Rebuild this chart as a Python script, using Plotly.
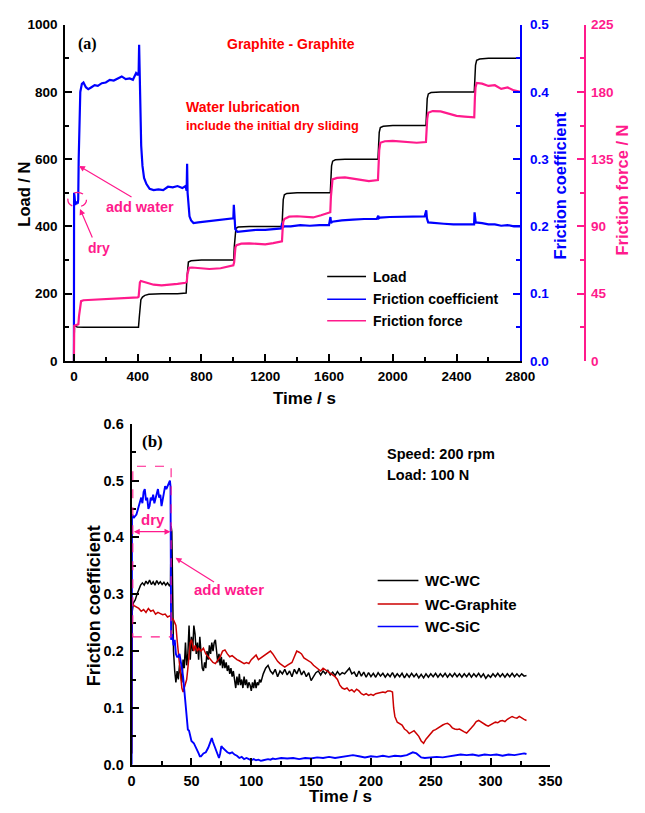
import plotly.graph_objects as go

# ---------------- Panel (a): Graphite - Graphite, load steps ----------------
load_t = [0, 3, 8, 20, 60, 150, 250, 350, 405, 410, 414, 420, 430, 445, 470, 550, 650, 704,
          708, 712, 718, 735, 800, 900, 1002, 1006, 1010, 1016, 1030, 1100, 1200, 1305, 1309,
          1313, 1320, 1335, 1400, 1500, 1608, 1612, 1616, 1623, 1640, 1700, 1800, 1907, 1911,
          1915, 1922, 1940, 2000, 2100, 2208, 2212, 2216, 2223, 2240, 2300, 2400, 2511, 2515,
          2519, 2526, 2545, 2600, 2700, 2800]
load_v = [0, 105, 104, 101, 100, 100, 100, 100, 100, 130, 165, 182, 190, 195, 198, 200, 200, 202,
          240, 280, 294, 298, 300, 300, 300, 340, 380, 394, 398, 400, 400, 400, 440,
          480, 494, 498, 500, 500, 500, 540, 580, 594, 598, 600, 600, 600, 640,
          680, 694, 698, 700, 700, 700, 740, 780, 794, 798, 800, 800, 800, 840,
          880, 894, 898, 900, 900, 900]

mu_t = [0, 1, 4, 8, 12, 16, 20, 24, 27, 30, 34, 40, 50, 60, 75, 90, 110, 130, 150, 175, 200,
        225, 250, 275, 300, 325, 350, 370, 390, 400, 406, 409, 412, 416, 422, 430, 440, 455,
        475, 500, 530, 560, 590, 620, 650, 680, 700, 707, 710, 713, 718, 725, 735, 750, 780,
        820, 860, 900, 940, 980, 1000, 1003, 1006, 1012, 1025, 1060, 1100, 1150, 1200, 1250,
        1300, 1306, 1310, 1320, 1360, 1420, 1480, 1540, 1600, 1609, 1613, 1620, 1680, 1750,
        1820, 1900, 1909, 1913, 1920, 1980, 2050, 2120, 2200, 2210, 2214, 2222, 2260, 2320,
        2380, 2440, 2510, 2513, 2520, 2560, 2600, 2640, 2680, 2720, 2760, 2800]
mu_v = [0.0, 0.25, 0.245, 0.232, 0.236, 0.233, 0.237, 0.234, 0.24, 0.3, 0.37, 0.4, 0.412, 0.414,
        0.407, 0.404, 0.407, 0.41, 0.409, 0.413, 0.414, 0.418, 0.417, 0.42, 0.423, 0.419, 0.42,
        0.418, 0.428, 0.425, 0.43, 0.47, 0.43, 0.37, 0.32, 0.29, 0.272, 0.263, 0.256, 0.254,
        0.255, 0.254, 0.259, 0.258, 0.26, 0.257, 0.26, 0.253, 0.293, 0.25, 0.23, 0.215, 0.209,
        0.205, 0.206, 0.207, 0.209, 0.21, 0.21, 0.211, 0.212, 0.232, 0.21, 0.196, 0.192, 0.193,
        0.194, 0.195, 0.195, 0.196, 0.197, 0.205, 0.199, 0.2, 0.2, 0.202, 0.201, 0.202, 0.202,
        0.214, 0.205, 0.207, 0.209, 0.21, 0.211, 0.211, 0.216, 0.212, 0.213, 0.214, 0.214,
        0.214, 0.215, 0.224, 0.212, 0.206, 0.205, 0.204, 0.203, 0.203, 0.203, 0.221, 0.206,
        0.205, 0.203, 0.203, 0.201, 0.202, 0.2, 0.2]

ff_t = [0, 2, 10, 20, 28, 32, 38, 45, 60, 100, 150, 200, 250, 300, 350, 400, 406, 410, 414,
        420, 435, 460, 500, 550, 600, 650, 700, 708, 712, 716, 722, 740, 780, 850, 920, 1000,
        1005, 1009, 1013, 1020, 1050, 1100, 1150, 1200, 1250, 1305, 1309, 1313, 1320, 1350,
        1400, 1450, 1500, 1550, 1608, 1612, 1616, 1622, 1650, 1700, 1750, 1800, 1850, 1907,
        1911, 1915, 1922, 1950, 2000, 2050, 2100, 2150, 2208, 2212, 2216, 2222, 2250, 2300,
        2350, 2400, 2450, 2511, 2515, 2519, 2526, 2560, 2600, 2640, 2680, 2720, 2760, 2800]
ff_v = [0, 23.5, 23.8, 24, 24.5, 30, 37, 40, 40.6, 40.8, 41, 41.3, 41.6, 41.8, 42, 42.5, 43,
        49, 52.5, 53.5, 53, 52, 51, 50.6, 50.8, 51.5, 52.3, 53, 58, 61, 62.3, 62.5, 62, 61.5,
        62, 64, 66, 72, 76, 77.5, 78.5, 78.7, 78.3, 78, 78.8, 80, 88, 93, 95, 96.5, 96.8, 96.2,
        96, 97.5, 99.5, 110, 118, 121.5, 122.5, 122.8, 122, 121, 120.3, 121, 132, 141, 146,
        147, 147.3, 147, 146.3, 146, 146.5, 155, 162, 166, 167.2, 167, 165.5, 164, 163.5, 163,
        176, 183, 186, 185.5, 184, 184.5, 182, 183, 181, 180]

a_xticks = [0, 400, 800, 1200, 1600, 2000, 2400, 2800]
a_load_ticks = [0, 200, 400, 600, 800, 1000]
a_mu_ticks = [0.0, 0.1, 0.2, 0.3, 0.4, 0.5]
a_ff_ticks = [0, 45, 90, 135, 180, 225]

# ---------------- Panel (b): 200 rpm, 100 N ----------------
wcwc_t = ([0, 0.5, 1.5, 3, 4.5, 6, 7.5, 9, 10.5, 12, 13.5, 15, 16.5, 18, 19.5, 21, 22.5, 24,
           25.5, 27, 28.5, 30, 31.5, 32.5, 33, 33.6, 34.2]
          + list(range(35, 111)) + list(range(112, 331, 2)))
wcwc_v = [0.02, 0.27, 0.285, 0.29, 0.30, 0.31, 0.316, 0.32, 0.316, 0.323, 0.318, 0.325, 0.317,
          0.322, 0.316, 0.324, 0.318, 0.322, 0.317, 0.321, 0.316, 0.32, 0.315, 0.318, 0.42,
          0.41, 0.3,
          # 35..110
          0.2, 0.165, 0.145, 0.165, 0.15, 0.175, 0.16, 0.145, 0.185, 0.17, 0.215, 0.175, 0.195,
          0.245, 0.185, 0.225, 0.2, 0.245, 0.23, 0.195, 0.215, 0.185, 0.225, 0.19, 0.17, 0.165,
          0.18, 0.17, 0.2, 0.185, 0.21, 0.195, 0.215, 0.2, 0.215, 0.22, 0.2, 0.18, 0.195, 0.175,
          0.19, 0.17, 0.185, 0.17, 0.18, 0.165, 0.175, 0.16, 0.17, 0.155, 0.165, 0.15, 0.135,
          0.155, 0.14, 0.16, 0.14, 0.15, 0.135, 0.155, 0.14, 0.15, 0.135, 0.145, 0.14, 0.13,
          0.145, 0.135, 0.15, 0.135, 0.145, 0.14, 0.15, 0.145, 0.155, 0.16,
          # 112..330 step 2
          0.17, 0.175, 0.165, 0.16, 0.168, 0.155, 0.165, 0.16, 0.168, 0.158, 0.165, 0.155,
          0.168, 0.16, 0.17, 0.158, 0.165, 0.155, 0.162, 0.148, 0.155, 0.162, 0.165, 0.158,
          0.165, 0.16, 0.166, 0.158, 0.163, 0.157, 0.164, 0.158, 0.162, 0.16, 0.165, 0.17,
          0.16, 0.163, 0.155, 0.165, 0.156, 0.163, 0.154, 0.162, 0.155, 0.161, 0.154, 0.162,
          0.156, 0.161, 0.154, 0.16, 0.155, 0.162, 0.154, 0.16, 0.155, 0.161, 0.153, 0.16,
          0.154, 0.161, 0.155, 0.16, 0.153, 0.159, 0.153, 0.16, 0.154, 0.16, 0.155, 0.161,
          0.154, 0.16, 0.155, 0.161, 0.154, 0.16, 0.155, 0.161, 0.155, 0.16, 0.154, 0.16,
          0.155, 0.161, 0.154, 0.16, 0.155, 0.161, 0.154, 0.16, 0.152, 0.158, 0.154, 0.16,
          0.155, 0.161, 0.155, 0.16, 0.154, 0.16, 0.155, 0.161, 0.155, 0.16, 0.155, 0.16,
          0.156, 0.157]

wcgr_t = ([0, 0.5] + list(range(2, 33, 2)) + list(range(33, 57)) + list(range(58, 219, 2))
          + [219] + list(range(220, 331, 2)))
wcgr_v = [0.02, 0.283,
          # 2..32
          0.28, 0.278, 0.275, 0.27, 0.273, 0.268, 0.275, 0.27, 0.272, 0.265, 0.268, 0.266,
          0.264, 0.265, 0.26, 0.262,
          # 33..56
          0.26, 0.258, 0.255, 0.25, 0.245, 0.22, 0.2, 0.18, 0.16, 0.135, 0.128, 0.135, 0.14,
          0.15, 0.17, 0.2, 0.215, 0.22, 0.21, 0.2, 0.21, 0.205, 0.2, 0.205,
          # 58..218
          0.2, 0.205, 0.195, 0.19, 0.185, 0.18, 0.178, 0.185, 0.19, 0.2, 0.202, 0.195, 0.19,
          0.192, 0.188, 0.185, 0.183, 0.18, 0.178, 0.18, 0.178, 0.185, 0.19, 0.193, 0.185,
          0.188, 0.19, 0.193, 0.196, 0.2, 0.195, 0.188, 0.182, 0.178, 0.175, 0.172, 0.175,
          0.178, 0.18, 0.19, 0.2, 0.198, 0.195, 0.188, 0.185, 0.182, 0.18, 0.175, 0.172,
          0.168, 0.165, 0.17, 0.167, 0.163, 0.16, 0.157, 0.155, 0.15, 0.14, 0.135, 0.133,
          0.135, 0.13, 0.132, 0.128, 0.133, 0.13, 0.125, 0.123, 0.125, 0.122, 0.124, 0.122,
          0.125, 0.126, 0.127, 0.128, 0.127, 0.13, 0.13, 0.128,
          # 219
          0.1,
          # 220..330
          0.085, 0.075, 0.072, 0.07, 0.063, 0.06, 0.055, 0.058, 0.06, 0.055, 0.05, 0.042,
          0.038, 0.045, 0.05, 0.055, 0.06, 0.062, 0.065, 0.068, 0.07, 0.072, 0.073, 0.07,
          0.065, 0.063, 0.062, 0.063, 0.06, 0.058, 0.056, 0.06, 0.065, 0.07, 0.076, 0.078,
          0.075, 0.072, 0.07, 0.068, 0.07, 0.072, 0.075, 0.074, 0.077, 0.078, 0.076, 0.08,
          0.082, 0.085, 0.083, 0.082, 0.085, 0.082, 0.08, 0.078]

wcsic_t = ([0, 0.3, 2, 4, 6, 8] + list(range(9, 33)) + [32.5] + list(range(33, 51))
           + [52, 54, 56, 57, 58, 60, 62, 64, 66, 67, 68, 70, 72, 73, 74, 75, 76, 78]
           + list(range(80, 119, 2)) + list(range(120, 236, 5))
           + [238, 242, 245] + list(range(250, 326, 5)) + [328, 330])
wcsic_v = [0.0, 0.44, 0.435, 0.44, 0.455, 0.47,
           # 9..32
           0.46, 0.48, 0.485, 0.465, 0.47, 0.45, 0.455, 0.47, 0.465, 0.475, 0.46, 0.47, 0.48,
           0.485, 0.47, 0.475, 0.455, 0.465, 0.48, 0.49, 0.485, 0.49, 0.495, 0.5,
           # 32.5
           0.49,
           # 33..50
           0.22, 0.23, 0.21, 0.22, 0.195, 0.19, 0.19, 0.195, 0.185, 0.17, 0.155, 0.13, 0.1,
           0.075, 0.062, 0.06, 0.05, 0.042,
           # 52..78
           0.038, 0.03, 0.02, 0.015, 0.015, 0.02, 0.022, 0.03, 0.04, 0.047, 0.04, 0.028, 0.018,
           0.012, 0.02, 0.033, 0.03, 0.025,
           # 80..118
           0.022, 0.02, 0.022, 0.018, 0.016, 0.012, 0.014, 0.01, 0.012, 0.01, 0.008, 0.01,
           0.008, 0.009, 0.007, 0.008, 0.009, 0.01, 0.009, 0.011,
           # 120..235
           0.01, 0.012, 0.011, 0.012, 0.01, 0.012, 0.011, 0.013, 0.012, 0.014, 0.012, 0.014,
           0.015, 0.017, 0.015, 0.013, 0.015, 0.014, 0.016, 0.014, 0.016, 0.015, 0.017, 0.022,
           # 238, 242, 245
           0.02, 0.013, 0.012,
           # 250..325
           0.013, 0.014, 0.013, 0.015, 0.016, 0.018, 0.017, 0.018, 0.016, 0.018, 0.017, 0.018,
           0.016, 0.018, 0.017, 0.019,
           0.02, 0.019]

b_xticks = [0, 50, 100, 150, 200, 250, 300, 350]
b_yticks = [0.0, 0.1, 0.2, 0.3, 0.4, 0.5, 0.6]

# ---------------- styling ----------------
W, H = 645, 813
BLACK = "#000000"
BLUE = "#0000ff"
PINK = "#ff1a8c"
RED = "#ff0000"
DRED = "#cc0000"
FONT = "Liberation Sans, Arial, sans-serif"
SERIF = "Liberation Serif, Times New Roman, serif"


def px(x):
    return x / W


def py(y):
    return 1 - y / H


fig = go.Figure()

fig.add_trace(go.Scatter(x=load_t, y=load_v, xaxis="x", yaxis="y", mode="lines",
                         line=dict(color=BLACK, width=1.5), name="Load", showlegend=False))
fig.add_trace(go.Scatter(x=ff_t, y=ff_v, xaxis="x", yaxis="y3", mode="lines",
                         line=dict(color=PINK, width=2.2), name="Friction force", showlegend=False))
fig.add_trace(go.Scatter(x=mu_t, y=mu_v, xaxis="x", yaxis="y2", mode="lines",
                         line=dict(color=BLUE, width=2.2), name="Friction coefficient",
                         showlegend=False))

fig.add_trace(go.Scatter(x=wcwc_t, y=wcwc_v, xaxis="x2", yaxis="y4", mode="lines",
                         line=dict(color=BLACK, width=1.5), name="WC-WC", showlegend=False))
fig.add_trace(go.Scatter(x=wcgr_t, y=wcgr_v, xaxis="x2", yaxis="y4", mode="lines",
                         line=dict(color=DRED, width=1.5), name="WC-Graphite", showlegend=False))
fig.add_trace(go.Scatter(x=wcsic_t, y=wcsic_v, xaxis="x2", yaxis="y4", mode="lines",
                         line=dict(color=BLUE, width=1.9), name="WC-SiC", showlegend=False))

tickfont_a = dict(family=FONT, size=13.5, color=BLACK, weight="bold")
tickfont_b = dict(family=FONT, size=14.5, color=BLACK, weight="bold")

common = dict(showgrid=False, zeroline=False, showline=True, linewidth=2, ticks="inside",
              ticklen=7, tickwidth=1.5)

fig.update_layout(
    width=W, height=H, margin=dict(l=0, r=0, t=0, b=0),
    plot_bgcolor="white", paper_bgcolor="white", showlegend=False,
    xaxis=dict(domain=[px(63), px(532)], anchor="y", range=[-55, 2800],
               tickvals=a_xticks, ticktext=[str(v) for v in a_xticks],
               linecolor=BLACK, tickcolor=BLACK, tickfont=tickfont_a, ticklabelstandoff=2,
               minor=dict(dtick=200, tick0=0, ticklen=4, ticks="inside", tickcolor=BLACK,
                          tickwidth=1.5),
               **common),
    yaxis=dict(domain=[py(360), py(17)], anchor="x", range=[0, 1000],
               tickvals=a_load_ticks, linecolor=BLACK, tickcolor=BLACK, tickfont=tickfont_a,
               ticklabelstandoff=3,
               minor=dict(dtick=100, tick0=0, ticklen=4, ticks="inside", tickcolor=BLACK,
                          tickwidth=1.5),
               **common),
    yaxis2=dict(overlaying="y", side="right", anchor="x", range=[0, 0.5],
                tickvals=a_mu_ticks, tickformat=".1f", linecolor=BLUE, tickcolor=BLUE,
                tickfont=dict(family=FONT, size=13.5, color=BLUE, weight="bold"),
                ticklabelstandoff=5,
                minor=dict(dtick=0.05, tick0=0, ticklen=4, ticks="inside", tickcolor=BLUE,
                           tickwidth=1.5),
                **common),
    yaxis3=dict(overlaying="y", side="right", anchor="free", position=px(599), range=[0, 225],
                tickvals=a_ff_ticks, linecolor=PINK, tickcolor=PINK,
                tickfont=dict(family=FONT, size=13.5, color=PINK, weight="bold"),
                ticklabelstandoff=2,
                minor=dict(dtick=22.5, tick0=0, ticklen=4, ticks="inside", tickcolor=PINK,
                           tickwidth=1.5),
                **common),
    xaxis2=dict(domain=[px(131.5), px(563)], anchor="y4", range=[0, 350],
                tickvals=b_xticks, linecolor=BLACK, tickcolor=BLACK, tickfont=tickfont_b,
                ticklabelstandoff=2,
                minor=dict(dtick=25, tick0=0, ticklen=4, ticks="inside", tickcolor=BLACK,
                           tickwidth=1.5),
                **common),
    yaxis4=dict(domain=[py(772), py(424)], anchor="x2", range=[0, 0.6],
                tickvals=b_yticks, tickformat=".1f", linecolor=BLACK, tickcolor=BLACK,
                tickfont=tickfont_b, ticklabelstandoff=3,
                minor=dict(dtick=0.05, tick0=0, ticklen=4, ticks="inside", tickcolor=BLACK,
                           tickwidth=1.5),
                **common),
)


def text(s, x, y, size, color=BLACK, angle=0, xanchor="center", family=FONT):
    fig.add_annotation(text=s, x=px(x), y=py(y), xref="paper", yref="paper",
                       showarrow=False, xanchor=xanchor, yanchor="middle", textangle=angle,
                       font=dict(family=family, size=size, color=color, weight="bold"))


# axis titles
text("Load / N", 21, 190, 16.5, angle=-90)
text("Time / s", 310, 398, 17)
text("Friction coefficient", 573, 181, 16.5, color=BLUE, angle=-90)
text("Friction force / N", 637, 186, 16.5, color=PINK, angle=-90)
text("Friction coefficient", 93, 610, 18, angle=-90)
text("Time / s", 347, 804, 17)

# panel labels and notes
text("(a)", 86, 37, 16, family=SERIF)
text("(b)", 153, 442, 17, family=SERIF)
text("Graphite - Graphite", 296, 37, 14, color=RED)
text("Water lubrication", 185, 101, 14, color=RED, xanchor="left")
text("include the initial dry sliding", 185, 120, 12.8, color=RED, xanchor="left")
text("add water", 140, 203, 14.5, color=PINK)
text("dry", 98, 245, 14, color=PINK)
text("Speed: 200 rpm", 393, 455, 14.5, xanchor="left")
text("Load: 100 N", 393, 476, 14.5, xanchor="left")
text("dry", 154, 522, 15, color=PINK)
text("add water", 232, 593, 15, color=PINK)

# arrows (panel a)
fig.add_annotation(x=32, y=580, xref="x", yref="y", ax=54, ay=32, text="", showarrow=True,
                   arrowhead=2, arrowsize=1, arrowwidth=1.2, arrowcolor=PINK)
fig.add_annotation(x=38, y=452, xref="x", yref="y", ax=13, ay=30, text="", showarrow=True,
                   arrowhead=2, arrowsize=1, arrowwidth=1.2, arrowcolor=PINK)
fig.add_shape(type="circle", xref="x", yref="y", x0=-38, x1=79, y0=458, y1=501,
              line=dict(color=PINK, width=1.3, dash="dash"))

# arrows (panel b)
fig.add_annotation(x=36.7, y=0.364, xref="x2", yref="y4", ax=40, ay=25, text="",
                   showarrow=True, arrowhead=2, arrowsize=1, arrowwidth=1.2, arrowcolor=PINK)
fig.add_annotation(x=32.5, y=0.41, xref="x2", yref="y4", ax=0.5, ay=0.41, axref="x2",
                   ayref="y4", text="", showarrow=True, arrowside="end+start", arrowhead=2,
                   arrowsize=1, arrowwidth=1.2, arrowcolor=PINK)
fig.add_shape(type="rect", xref="x2", yref="y4", x0=1, x1=33, y0=0.225, y1=0.525,
              line=dict(color=PINK, width=1.1, dash="dash"))

# legends (drawn manually to match the original placement)
for name, color, yy in [("Load", BLACK, 274), ("Friction coefficient", BLUE, 297),
                        ("Friction force", PINK, 319)]:
    fig.add_shape(type="line", xref="paper", yref="paper", x0=px(333), x1=px(373),
                  y0=py(yy), y1=py(yy), line=dict(color=color, width=1.5))
    text(name, 378, yy, 14, xanchor="left")

for name, color, yy in [("WC-WC", BLACK, 584), ("WC-Graphite", DRED, 608),
                        ("WC-SiC", BLUE, 631)]:
    fig.add_shape(type="line", xref="paper", yref="paper", x0=px(385), x1=px(427),
                  y0=py(yy), y1=py(yy), line=dict(color=color, width=1.5))
    text(name, 432, yy, 15, xanchor="left")

fig.write_html("out.html")
